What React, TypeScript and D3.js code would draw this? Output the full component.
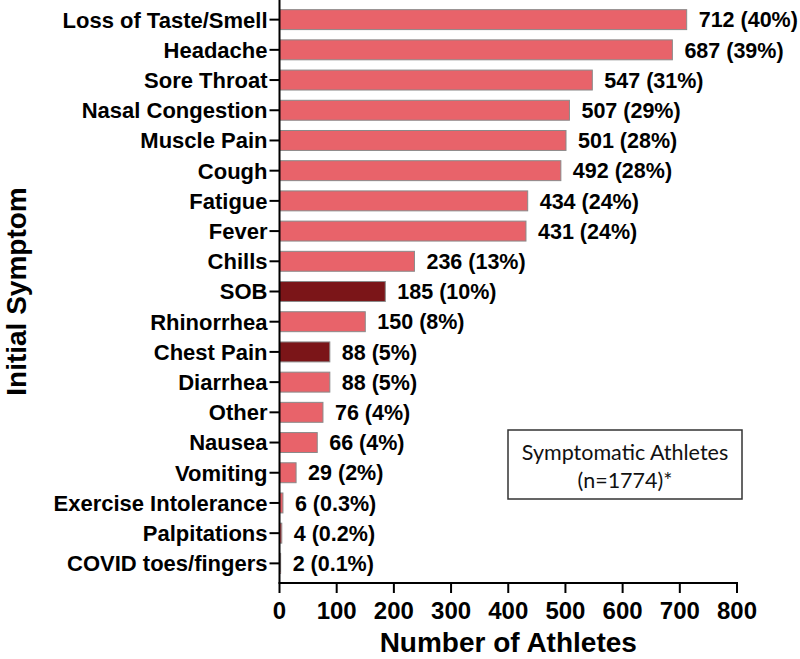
import React from "react";
import * as d3 from "d3";

const symptoms = [
  "Loss of Taste/Smell",
  "Headache",
  "Sore Throat",
  "Nasal Congestion",
  "Muscle Pain",
  "Cough",
  "Fatigue",
  "Fever",
  "Chills",
  "SOB",
  "Rhinorrhea",
  "Chest Pain",
  "Diarrhea",
  "Other",
  "Nausea",
  "Vomiting",
  "Exercise Intolerance",
  "Palpitations",
  "COVID toes/fingers",
];
const counts = [712, 687, 547, 507, 501, 492, 434, 431, 236, 185, 150, 88, 88, 76, 66, 29, 6, 4, 2];
const percents = ["40%", "39%", "31%", "29%", "28%", "28%", "24%", "24%", "13%", "10%", "8%", "5%", "5%", "4%", "4%", "2%", "0.3%", "0.2%", "0.1%"];
const highlighted = ["SOB", "Chest Pain"];
const xTicks = [0, 100, 200, 300, 400, 500, 600, 700, 800];
const xTitle = "Number of Athletes";
const yTitle = "Initial Symptom";
const noteLines = ["Symptomatic Athletes", "(n=1774)*"];

const W = 800;
const H = 659;
const left = 279.5;
const right = 737;
const top = 0;
const bottom = 583;

const FONT = "'Liberation Sans', Arial, Helvetica, sans-serif";

export default function App() {
  const x = d3.scaleLinear().domain([0, 800]).range([left, right]);
  const y = d3
    .scaleBand<string>()
    .domain(symptoms)
    .range([top, bottom])
    .paddingInner(0.34)
    .paddingOuter(0.32);

  const light = "#E8636A";
  const dark = "#7B1518";

  return (
    <svg
      width={W}
      height={H}
      style={{ position: "absolute", left: 0, top: 0, display: "block", background: "#fff" }}
    >
      {/* bars */}
      {symptoms.map((s, i) => (
        <rect
          key={s}
          x={x(0)}
          y={y(s)!}
          width={Math.max(0, x(counts[i]) - x(0))}
          height={y.bandwidth()}
          fill={highlighted.includes(s) ? dark : light}
          stroke="#8a8a8a"
          strokeWidth={1}
        />
      ))}
      {/* value labels */}
      {symptoms.map((s, i) => (
        <text
          key={"v" + s}
          x={x(counts[i]) + 12}
          y={y(s)! + y.bandwidth() / 2}
          dy="0.36em"
          fontFamily={FONT}
          fontWeight="bold"
          fontSize={21.5}
          fill="#000"
        >
          {`${counts[i]} (${percents[i]})`}
        </text>
      ))}
      {/* y axis */}
      <line x1={left} x2={left} y1={top} y2={bottom} stroke="#000" strokeWidth={2} />
      {symptoms.map((s) => (
        <g key={"yt" + s} transform={`translate(0,${y(s)! + y.bandwidth() / 2})`}>
          <line x1={left - 10} x2={left} y1={0} y2={0} stroke="#000" strokeWidth={2} />
          <text
            x={left - 12}
            dy="0.36em"
            textAnchor="end"
            fontFamily={FONT}
            fontWeight="bold"
            fontSize={22}
            fill="#000"
          >
            {s}
          </text>
        </g>
      ))}
      {/* x axis */}
      <line x1={left - 1} x2={right + 1} y1={bottom} y2={bottom} stroke="#000" strokeWidth={2} />
      {xTicks.map((t) => (
        <g key={"xt" + t} transform={`translate(${x(t)},0)`}>
          <line x1={0} x2={0} y1={bottom} y2={bottom + 10} stroke="#000" strokeWidth={2} />
          <text
            y={bottom + 27}
            dy="0.36em"
            textAnchor="middle"
            fontFamily={FONT}
            fontWeight="bold"
            fontSize={24}
            fill="#000"
          >
            {t}
          </text>
        </g>
      ))}
      {/* axis titles */}
      <text
        x={(left + right) / 2}
        y={652}
        textAnchor="middle"
        fontFamily={FONT}
        fontWeight="bold"
        fontSize={28}
        fill="#000"
      >
        {xTitle}
      </text>
      <text
        transform={`translate(26,${(top + bottom) / 2}) rotate(-90)`}
        textAnchor="middle"
        fontFamily={FONT}
        fontWeight="bold"
        fontSize={28}
        fill="#000"
      >
        {yTitle}
      </text>
      {/* note box */}
      <rect x={508} y={430} width={234} height={69} fill="#fff" stroke="#333" strokeWidth={1.5} />
      {noteLines.map((l, i) => (
        <text
          key={"n" + i}
          x={625}
          y={452 + i * 28}
          dy="0.36em"
          textAnchor="middle"
          fontFamily="Lato, 'Open Sans', sans-serif"
          fontSize={21.5}
          fill="#111"
        >
          {l}
        </text>
      ))}
    </svg>
  );
}
